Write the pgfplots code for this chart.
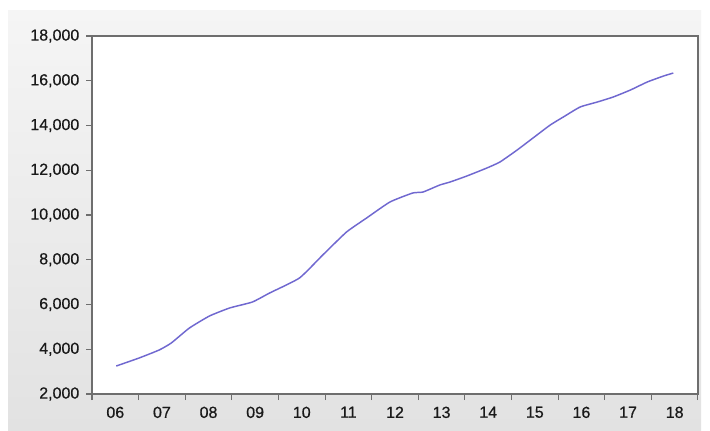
\documentclass[border=0pt]{standalone}
\usepackage{pgfplots}
\pgfplotsset{compat=1.18}
\usepackage{fontspec}
\setmainfont{Liberation Sans}
\newfontfamily\tickfont[FakeBold=0.6]{Liberation Sans}

\definecolor{bgtop}{HTML}{F5F5F5}
\definecolor{bgbot}{HTML}{E2E2E2}
\definecolor{framegray}{HTML}{6E6E6E}
\definecolor{serieblue}{RGB}{112,104,208}
\definecolor{labelgray}{HTML}{1A1A1A}

\begin{document}
\begin{tikzpicture}
% page background (1 px = 0.75 pt)
\fill[white] (0,0) rectangle (532.5pt,322.5pt);
\shade[top color=bgtop, bottom color=bgbot] (6pt,0pt) rectangle (525.75pt,315pt);

\begin{axis}[
    at={(69pt,27pt)},
    anchor=south west,
    scale only axis,
    width=454.5pt,
    height=268.5pt,
    axis background/.style={fill=white},
    axis line style={framegray, line width=1pt},
    xmin=2006, xmax=2019,
    ymin=2000, ymax=18000,
    ytick={2000,4000,...,18000},
    xtick={2006.5,2007.5,...,2018.5},
    xticklabels={06,07,08,09,10,11,12,13,14,15,16,17,18},
    minor xtick={2006,2007,...,2019},
    xtick pos=bottom, ytick pos=left,
    tick align=outside,
    major tick length=4.5pt,
    minor tick length=4.5pt,
    major x tick style={draw=none},
    every tick/.style={framegray, line width=0.8pt},
    minor tick style={framegray, line width=0.8pt},
    scaled y ticks=false,
    /pgf/number format/.cd, 1000 sep={,}, assume math mode=true,
    /pgfplots/.cd,
    tick label style={font=\tickfont\fontsize{12}{14}\selectfont, text=labelgray},
    xticklabel style={yshift=-1.5pt},
    yticklabel style={xshift=-1.5pt},
]
\addplot[serieblue, line width=1.1pt, smooth, tension=0.3] coordinates {
    (2006.52,3251) (2007.01,3609) (2007.44,3966) (2007.70,4279)
    (2008.09,4950) (2008.52,5486) (2008.95,5843) (2009.44,6111)
    (2009.81,6514) (2010.45,7184) (2010.95,8212) (2011.46,9240)
    (2011.89,9865) (2012.39,10580) (2012.88,10983) (2013.10,11027)
    (2013.46,11340) (2013.68,11474) (2014.04,11742) (2014.47,12100)
    (2014.75,12368) (2015.12,12904) (2015.46,13441) (2015.83,14022)
    (2016.11,14379) (2016.47,14826) (2016.84,15050) (2017.18,15273)
    (2017.55,15586) (2017.91,15943) (2018.26,16211) (2018.47,16345)
};
\end{axis}
\end{tikzpicture}
\end{document}
